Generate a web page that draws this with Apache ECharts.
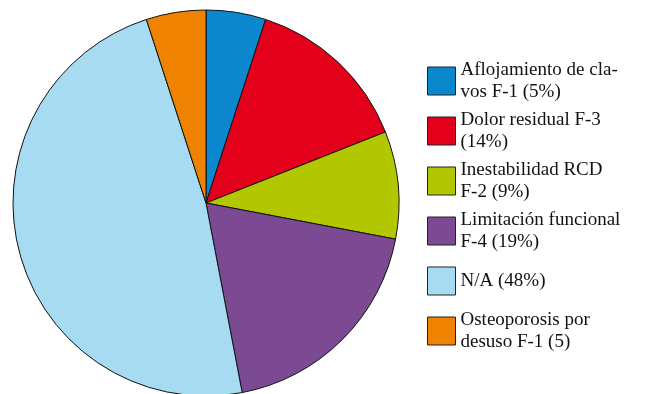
<!DOCTYPE html>
<html><head><meta charset="utf-8">
<script src="https://cdn.jsdelivr.net/npm/echarts@6/dist/echarts.min.js"></script>
<style>html,body{margin:0;padding:0;background:#fff}#c{width:670px;height:394px}</style>
</head><body><div id="c"></div>
<script>
const categories = ['Aflojamiento de cla-\nvos F-1 (5%)', 'Dolor residual F-3\n(14%)', 'Inestabilidad RCD\nF-2 (9%)', 'Limitación funcional\nF-4 (19%)', 'N/A (48%)', 'Osteoporosis por\ndesuso F-1 (5)'];
const values = [5, 14, 9, 19, 48, 5];
const colors = ['#0a87cd', '#e2001a', '#b3c700', '#7c4a93', '#a7dbf2', '#ef8200'];

const chart = echarts.init(document.getElementById('c'));
chart.setOption({
  animation: false,
  color: colors,
  legend: {
    orient: 'vertical',
    left: 422,
    top: 54,
    icon: 'rect',
    itemWidth: 28,
    itemHeight: 28,
    itemGap: 6,
    itemStyle: { borderColor: '#222', borderWidth: 1 },
    textStyle: { fontFamily: 'Liberation Serif', fontSize: 19, lineHeight: 22, color: '#111' },
    data: categories.map(n => n.indexOf('\n') < 0 ? { name: n, textStyle: { lineHeight: 44 } } : { name: n })
  },
  series: [{
    type: 'pie',
    center: [206, 203],
    radius: 193,
    startAngle: 90,
    clockwise: true,
    label: { show: false },
    labelLine: { show: false },
    itemStyle: { borderColor: '#111', borderWidth: 1 },
    emphasis: { disabled: true },
    data: categories.map((n, i) => ({ name: n, value: values[i] }))
  }]
});
</script></body></html>
